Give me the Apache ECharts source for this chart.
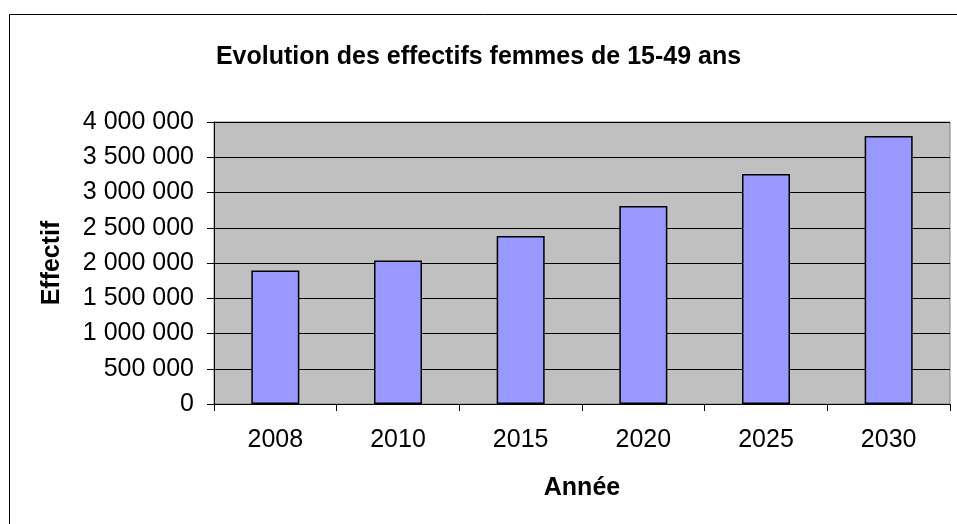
<!DOCTYPE html>
<html>
<head>
<meta charset="utf-8">
<script src="https://cdn.jsdelivr.net/npm/echarts@6/dist/echarts.min.js"></script>
<style>
  html, body { margin: 0; padding: 0; background: #fff; }
  #chart { width: 957px; height: 524px; }
</style>
</head>
<body>
<div id="chart"></div>
<script>
// data
const years = ['2008', '2010', '2015', '2020', '2025', '2030'];
const effectifs = [1893000, 2035000, 2382000, 2808000, 3263000, 3802000];
const yTicks = { min: 0, max: 4000000, interval: 500000 };

const font = '"Liberation Sans", Arial, sans-serif';

function withSpaces(v) {
  return String(v).replace(/\B(?=(\d{3})+(?!\d))/g, ' ');
}

const chart = echarts.init(document.getElementById('chart'));

chart.setOption({
  animation: false,
  textStyle: { fontFamily: font },
  title: {
    text: 'Evolution des effectifs femmes de 15-49 ans',
    left: 'center',
    top: 40,
    textStyle: { fontFamily: font, fontSize: 25, fontWeight: 'bold', color: '#000' }
  },
  graphic: [{
    type: 'rect',
    shape: { x: 9.5, y: 14.5, width: 960, height: 520 },
    style: { fill: 'none', stroke: '#000', lineWidth: 1 },
    silent: true
  }],
  grid: {
    left: 214,
    right: 7,
    top: 122,
    bottom: 120,
    show: true,
    backgroundColor: '#C0C0C0',
    borderColor: '#808080',
    borderWidth: 1
  },
  xAxis: {
    type: 'category',
    data: years,
    name: 'Année',
    nameLocation: 'middle',
    nameGap: 72,
    nameTextStyle: { fontFamily: font, fontSize: 25, fontWeight: 'bold', color: '#000' },
    axisLine: { lineStyle: { color: '#000', width: 1 } },
    axisTick: { show: true, length: 7, lineStyle: { color: '#000' } },
    axisLabel: { fontFamily: font, fontSize: 25, color: '#000', margin: 24 }
  },
  yAxis: {
    type: 'value',
    min: yTicks.min,
    max: yTicks.max,
    interval: yTicks.interval,
    name: 'Effectif',
    nameLocation: 'middle',
    nameRotate: 90,
    nameGap: 149,
    nameTextStyle: { fontFamily: font, fontSize: 25, fontWeight: 'bold', color: '#000' },
    axisLine: { show: true, lineStyle: { color: '#000', width: 1 } },
    axisTick: { show: true, length: 7, lineStyle: { color: '#000' } },
    axisLabel: {
      fontFamily: font, fontSize: 25, color: '#000', margin: 20,
      formatter: withSpaces
    },
    splitLine: { show: true, lineStyle: { color: '#000', width: 1 } }
  },
  series: [{
    type: 'bar',
    data: effectifs,
    barWidth: 48,
    itemStyle: { color: '#9999FF', borderColor: '#000', borderWidth: 1.5 }
  }]
});
</script>
</body>
</html>
